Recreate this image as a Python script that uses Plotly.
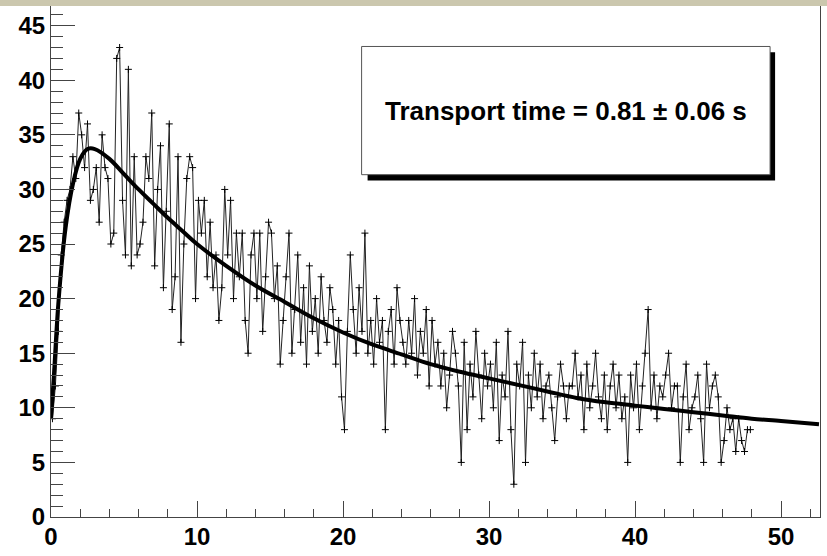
import plotly.graph_objects as go

# ---- data ----
bin_width = 0.2
counts = [
    9, 12, 17, 24, 27,   29, 30, 33, 31, 37,   35, 32, 36, 29, 30,   32, 27, 35, 32, 31,
    25, 26, 42, 43, 29,  24, 41, 23, 33, 24,   25, 27, 33, 31, 37,   23, 30, 34, 21, 28,
    36, 19, 22, 33, 16,  25, 31, 33, 32, 20,   29, 26, 29, 22, 27,   21, 24, 18, 21, 30,
    24, 29, 20, 26, 22,  26, 18, 15, 24, 26,   20, 26, 17, 22, 27,   26, 20, 23, 14, 18,
    22, 26, 15, 19, 24,  16, 21, 14, 23, 17,   20, 15, 22, 18, 16,   21, 19, 14, 18, 11,
    8, 17, 24, 19, 15,   21, 17, 26, 15, 18,   14, 20, 16, 18, 8,    17, 19, 14, 21, 18,
    16, 14, 18, 15, 20,  13, 17, 15, 19, 12,   18, 14, 16, 12, 15,   10, 13, 17, 15, 12,
    5, 16, 8, 14, 11,    17, 13, 9, 15, 12,    14, 10, 16, 7, 13,    11, 17, 8, 3, 14,
    12, 16, 5, 13, 10,   15, 11, 14, 9, 12,    13, 10, 7, 11, 14,    12, 9, 12, 12, 15,
    11, 13, 8, 14, 10,   12, 15, 11, 9, 13,    8, 12, 14, 10, 13,    9, 11, 5, 13, 10,
    14, 8, 12, 15, 19,   10, 13, 9, 12, 11,    13, 15, 10, 12, 12,   5, 11, 14, 8, 10,
    11, 13, 9, 5, 14,    10, 12, 13, 11, 5,    7, 10, 8, 9, 6,       9, 7, 6, 8, 8,
]
bin_centers = [round(bin_width * (i + 0.5), 2) for i in range(len(counts))]

fit_x = [0, 0.2, 0.5, 1, 1.5, 2, 2.5, 3, 4, 5, 6, 7, 8, 9, 10, 12, 14, 16, 18, 20,
         22, 24, 26, 28, 30, 32, 34, 36, 38, 40, 42, 44, 46, 48, 50, 52.6]
fit_y = [9, 13, 19.5, 26.5, 30.5, 32.8, 33.7, 33.7, 32.8, 31.4, 30.0, 28.7, 27.4, 26.2, 25.0,
         23.0, 21.2, 19.7, 18.2, 16.9, 15.8, 14.9, 14.0, 13.3, 12.7, 12.1, 11.5, 10.9, 10.5,
         10.2, 9.9, 9.6, 9.3, 9.0, 8.8, 8.5]

x_ticks = [0, 10, 20, 30, 40, 50]
y_ticks = [0, 5, 10, 15, 20, 25, 30, 35, 40, 45]
label = "Transport time = 0.81 \u00b1 0.06 s"

fig = go.Figure()
fig.add_trace(go.Scatter(
    x=bin_centers, y=counts, mode="lines+markers",
    line=dict(color="#222222", width=1),
    marker=dict(symbol="cross-thin", size=5, line=dict(color="black", width=1)),
    showlegend=False, hoverinfo="skip"))
fig.add_trace(go.Scatter(
    x=fit_x, y=fit_y, mode="lines", line=dict(color="black", width=4, shape="spline"),
    showlegend=False, hoverinfo="skip"))

axis_col = "#444444"
tick_font = dict(family="Liberation Sans, Arial, sans-serif", size=24, color="black", weight="bold")

fig.update_layout(
    width=827, height=556,
    margin=dict(l=51, r=6, t=6, b=32),
    paper_bgcolor="white", plot_bgcolor="white",
    xaxis=dict(range=[0, 52.67], tickvals=x_ticks, ticks="inside", ticklen=16, tickwidth=1,
               tickcolor=axis_col, showline=True, linecolor=axis_col, linewidth=1,
               showgrid=False, zeroline=False, tickfont=tick_font, ticklabelstandoff=-2,
               minor=dict(dtick=2, ticks="inside", ticklen=8, tickcolor=axis_col, tickwidth=1)),
    yaxis=dict(range=[0, 46.8], tickvals=y_ticks, ticks="inside", ticklen=24, tickwidth=1,
               tickcolor=axis_col, showline=True, linecolor=axis_col, linewidth=1, mirror=True,
               showgrid=False, zeroline=False, tickfont=tick_font,
               minor=dict(dtick=1, ticks="inside", ticklen=12, tickcolor=axis_col, tickwidth=1)),
    shapes=[
        # shadow of the stats box
        dict(type="rect", xref="paper", yref="paper", x0=0.4117, x1=0.9416, y0=0.6583, y1=0.9093,
             fillcolor="black", line=dict(width=0), layer="above"),
        # stats box
        dict(type="rect", xref="paper", yref="paper", x0=0.4039, x1=0.9351, y0=0.6699, y1=0.9208,
             fillcolor="white", line=dict(color="#555555", width=1), layer="above"),
        # beige strip at the top
        dict(type="rect", xref="paper", yref="paper", x0=-0.07, x1=1.01, y0=1.0, y1=1.012,
             fillcolor="#cbc7ae", line=dict(width=0), layer="above"),
    ],
    annotations=[
        dict(text="<b>" + label + "</b>", xref="paper", yref="paper", x=0.6695, y=0.7954,
             showarrow=False, font=dict(family="Liberation Sans, Arial, sans-serif", size=26,
                                        color="black"), xanchor="center", yanchor="middle"),
    ],
)

fig.write_html("out.html", config={"displayModeBar": False},
               post_script="document.body.style.margin='0';document.body.style.padding='0';")
